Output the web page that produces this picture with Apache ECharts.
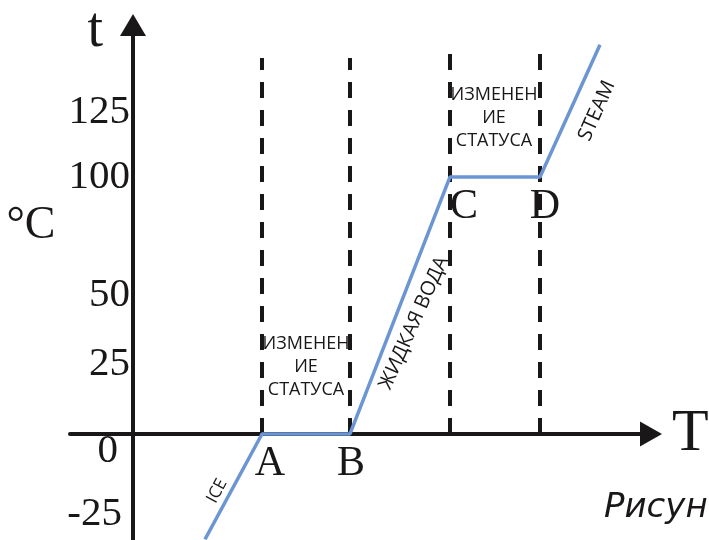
<!DOCTYPE html>
<html lang="ru">
<head>
    <meta charset="UTF-8">
    <title>Нагрев воды</title>
    <script src="https://cdn.jsdelivr.net/npm/echarts@6/dist/echarts.min.js"></script>
    <style>
        html, body { margin: 0; padding: 0; background: #fff; }
        #main { width: 709px; height: 540px; }
    </style>
</head>
<body>
<div id="main"></div>
<script>
    // heating curve (x in arbitrary time units, y in °C)
    var curveX = [72, 129, 217, 317, 407, 467];
    var curveY = [-41, 0, 0, 100, 100, 151.4];
    var tickValues = [-25, 0, 25, 50, 100, 125];

    // dashed borders of the phase-change zones
    var dashX = [129, 217, 317, 407];
    var dashTop = [146.3, 146.3, 148.6, 148.6];

    // annotations
    var pointNames = ['A', 'B', 'C', 'D'];
    var pointPos = [[137, -11.5], [218, -11.5], [331, 88.5], [412, 88.5]];
    var phaseNames = ['ICE', 'ЖИДКАЯ ВОДА', 'STEAM'];
    var phasePos = [[84, -22.2], [281, 43.2], [464, 125.7]];
    var phaseAngle = [62, 66, 66];
    var changeText = 'ИЗМЕНЕН\nИЕ\nСТАТУСА';
    var changePos = [[173, 26.1], [361, 123]];

    var ink = '#1a1718';
    var blue = '#6b96d3';
    var serif = '"Liberation Serif", "DejaVu Serif", serif';
    var sans = '"Open Sans", "Noto Sans", sans-serif';

    // small per-label nudges, like in the original drawing
    var tickRich = {
        t0: {padding: [32, 8, 0, 0]},   // -25
        t1: {padding: [34, 12, 0, 0]},  // 0
        t2: {padding: [0, 0, 10, 0]},   // 25
        t3: {padding: [0, 0, 20, 0]},   // 50
        t4: {padding: [0, 0, 0, 0]},    // 100
        t5: {padding: [0, 0, 0, 0]}     // 125
    };
    for (var k in tickRich) {
        tickRich[k].fontFamily = serif;
        tickRich[k].fontSize = 41;
        tickRich[k].color = ink;
    }

    var series = [];
    series.push({
        type: 'line',
        data: curveX.map(function (x, i) { return [x, curveY[i]]; }),
        symbol: 'none',
        lineStyle: {color: blue, width: 3.5},
        z: 5
    });
    for (var i = 0; i < dashX.length; i++) {
        series.push({
            type: 'line',
            data: [[dashX[i], 0], [dashX[i], dashTop[i]]],
            symbol: 'none',
            lineStyle: {color: ink, width: 4, type: [16, 12]},
            z: 3
        });
    }
    var labelSeries = {
        type: 'scatter',
        symbolSize: 0,
        silent: true,
        itemStyle: {opacity: 1},
        emphasis: {disabled: true}
    };
    series.push(Object.assign({}, labelSeries, {
        data: pointNames.map(function (n, i) {
            return {value: pointPos[i], name: n};
        }),
        label: {
            show: true, position: 'inside', formatter: '{b}', opacity: 1,
            fontFamily: serif, fontSize: 42, color: ink, textBorderWidth: 0
        }
    }));
    series.push(Object.assign({}, labelSeries, {
        data: phaseNames.map(function (n, i) {
            return {value: phasePos[i], name: n, label: {rotate: phaseAngle[i], fontSize: i === 0 ? 17 : 20}};
        }),
        label: {
            show: true, position: 'inside', formatter: '{b}', opacity: 1,
            fontFamily: sans, color: ink, textBorderWidth: 0
        }
    }));
    series.push(Object.assign({}, labelSeries, {
        data: changePos.map(function (p) { return {value: p, name: changeText}; }),
        label: {
            show: true, position: 'inside', formatter: '{b}', opacity: 1,
            fontFamily: sans, fontSize: 18, lineHeight: 23, color: ink, align: 'center',
            textBorderWidth: 0
        }
    }));

    var myChart = echarts.init(document.getElementById('main'));
    var option = {
        animation: false,
        grid: {left: 70, right: 58, top: 25, bottom: 0, containLabel: false, outerBoundsMode: 'none'},
        xAxis: {
            type: 'value',
            min: -63,
            max: 518,
            name: 'T',
            nameLocation: 'end',
            nameGap: 21,
            nameTextStyle: {fontFamily: serif, fontSize: 60, color: ink},
            axisLine: {
                onZero: true,
                lineStyle: {color: ink, width: 4},
                symbol: ['none', 'triangle'],
                symbolSize: [25, 22]
            },
            axisTick: {show: false},
            axisLabel: {show: false},
            splitLine: {show: false}
        },
        yAxis: {
            type: 'value',
            min: -41.25,
            max: 159.1,
            name: 't',
            nameLocation: 'end',
            nameGap: -34,
            nameTextStyle: {fontFamily: serif, fontSize: 56, color: ink, align: 'right', padding: [0, 30, 0, 0]},
            axisLine: {
                onZero: true,
                lineStyle: {color: ink, width: 4},
                symbol: ['none', 'triangle'],
                symbolSize: [26, 22]
            },
            axisTick: {show: false},
            axisLabel: {
                show: true,
                margin: -60,
                customValues: tickValues,
                formatter: function (v) {
                    return '{t' + tickValues.indexOf(v) + '|' + v + '}';
                },
                rich: tickRich
            },
            splitLine: {show: false}
        },
        graphic: [
            {
                type: 'text', x: 31, y: 226,
                style: {text: '°C', font: '46px ' + serif, fill: ink, align: 'center', verticalAlign: 'middle'}
            },
            {
                type: 'text', x: 604, y: 508,
                style: {text: 'Рисунок', font: 'italic 34px "DejaVu Sans", sans-serif', fill: ink, align: 'left', verticalAlign: 'middle'}
            }
        ],
        series: series
    };
    myChart.setOption(option);
</script>
</body>
</html>
